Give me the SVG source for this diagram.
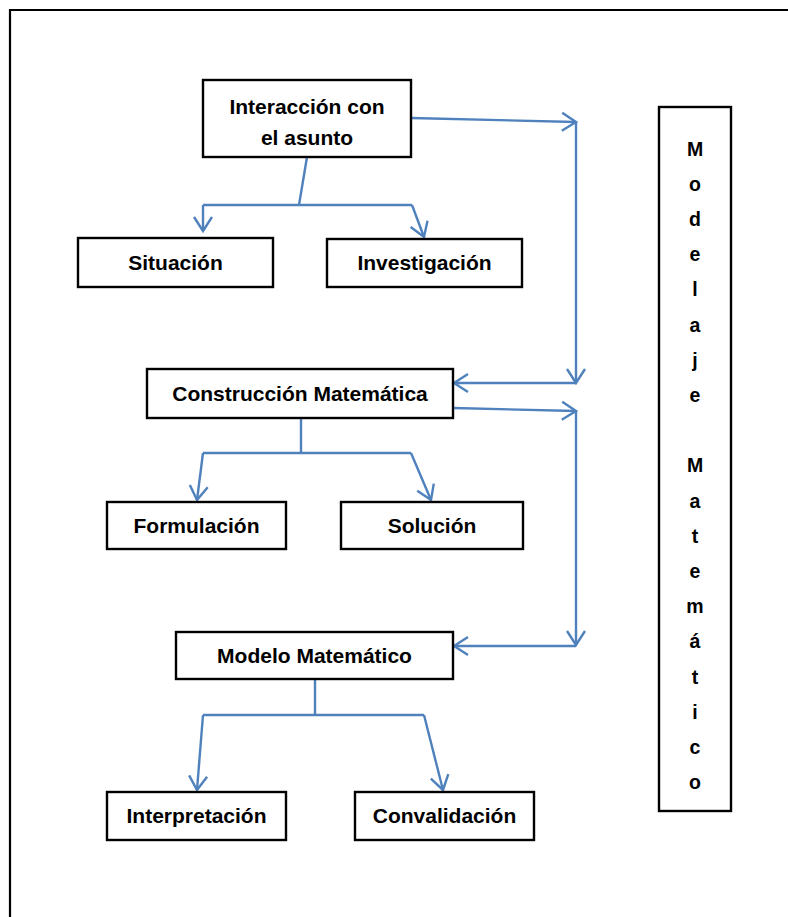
<svg xmlns="http://www.w3.org/2000/svg" width="788" height="917" viewBox="0 0 788 917">
<style>
.box{fill:#fff;stroke:#000;stroke-width:2.4}
.t{font-family:"Liberation Sans",Arial,sans-serif;font-weight:bold;font-size:21px;fill:#000;text-anchor:middle}
.v{font-family:"Liberation Sans",Arial,sans-serif;font-weight:bold;font-size:19.5px;fill:#000;text-anchor:middle}
.c{fill:none;stroke:#4F81BD;stroke-width:2.4;marker-end:url(#arr)}
.p{fill:none;stroke:#4F81BD;stroke-width:2.4}
</style>
<defs>
<marker id="arr" markerUnits="userSpaceOnUse" markerWidth="30" markerHeight="30" refX="16" refY="10" orient="auto" viewBox="0 0 30 20" overflow="visible">
<path d="M2,1 L16,10 L2,19" fill="none" stroke="#4F81BD" stroke-width="2.4"/>
</marker>
</defs>
<rect width="788" height="917" fill="#fff"/>
<path d="M10,930 V10 H800" fill="none" stroke="#000" stroke-width="2.2"/>

<g id="connectors">
<path class="p" d="M307,157 L299,205"/>
<path class="p" d="M203,205 H412"/>
<path class="c" d="M203,205 V231"/>
<path class="c" d="M412,205 L424,237"/>
<path class="c" d="M411,118 L576,122"/>
<path class="c" d="M576,122 V383"/>
<path class="c" d="M576,383 H454"/>
<path class="p" d="M301,418 V453"/>
<path class="p" d="M203,453 H411"/>
<path class="c" d="M203,453 L197,500"/>
<path class="c" d="M411,453 L431,500"/>
<path class="c" d="M453,408 L576,411"/>
<path class="c" d="M576,411 V645"/>
<path class="c" d="M576,646 H454"/>
<path class="p" d="M315,679 V715"/>
<path class="p" d="M203,715 H424"/>
<path class="c" d="M203,715 L197,790"/>
<path class="c" d="M424,715 L443,790"/>
</g>

<g id="interaccion">
<rect class="box" x="203" y="80" width="208" height="77"/>
<text class="t" x="307" y="114">Interacción con</text>
<text class="t" x="307" y="145">el asunto</text>
</g>
<g id="situacion">
<rect class="box" x="78" y="238" width="195" height="49"/>
<text class="t" x="175.5" y="270">Situación</text>
</g>
<g id="investigacion">
<rect class="box" x="327" y="239" width="195" height="48"/>
<text class="t" x="424.5" y="270">Investigación</text>
</g>
<g id="construccion">
<rect class="box" x="147" y="369" width="306" height="49"/>
<text class="t" x="300" y="401">Construcción Matemática</text>
</g>
<g id="formulacion">
<rect class="box" x="107" y="502" width="179" height="47"/>
<text class="t" x="196.5" y="533">Formulación</text>
</g>
<g id="solucion">
<rect class="box" x="341" y="502" width="182" height="47"/>
<text class="t" x="432" y="533">Solución</text>
</g>
<g id="modelo">
<rect class="box" x="176" y="632" width="277" height="47"/>
<text class="t" x="314.5" y="663">Modelo Matemático</text>
</g>
<g id="interpretacion">
<rect class="box" x="107" y="792" width="179" height="48"/>
<text class="t" x="196.5" y="823">Interpretación</text>
</g>
<g id="convalidacion">
<rect class="box" x="355" y="792" width="179" height="48"/>
<text class="t" x="444.5" y="823">Convalidación</text>
</g>
<g id="modelaje">
<rect class="box" x="659" y="107" width="72" height="704"/>
<text class="v"><tspan x="695" y="155.5">M</tspan><tspan x="695" y="190.7">o</tspan><tspan x="695" y="225.9">d</tspan><tspan x="695" y="261.1">e</tspan><tspan x="695" y="296.3">l</tspan><tspan x="695" y="331.5">a</tspan><tspan x="695" y="366.7">j</tspan><tspan x="695" y="401.9">e</tspan><tspan x="695" y="472.3">M</tspan><tspan x="695" y="507.5">a</tspan><tspan x="695" y="542.7">t</tspan><tspan x="695" y="577.9">e</tspan><tspan x="695" y="613.1">m</tspan><tspan x="695" y="648.3">á</tspan><tspan x="695" y="683.5">t</tspan><tspan x="695" y="718.7">i</tspan><tspan x="695" y="753.9">c</tspan><tspan x="695" y="789.1">o</tspan></text>
</g>
</svg>
